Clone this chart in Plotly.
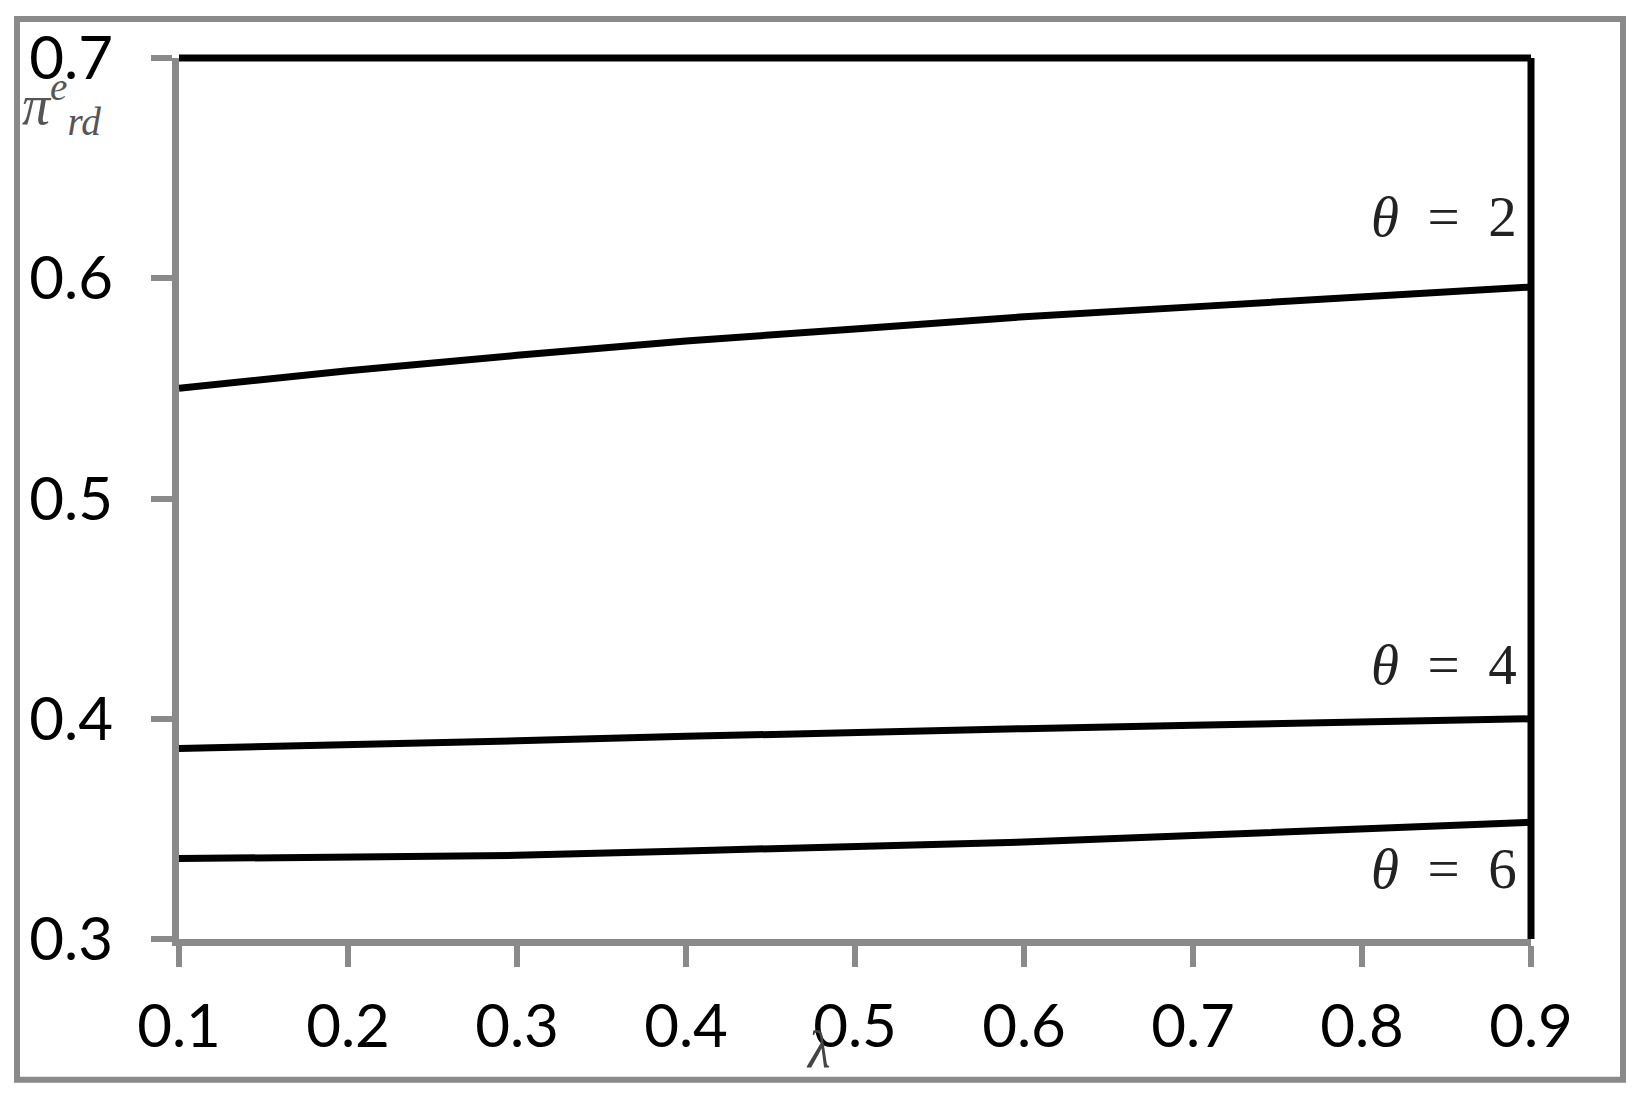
import plotly.graph_objects as go

# 데이터
lam = [0.1, 0.2, 0.3, 0.4, 0.5, 0.6, 0.7, 0.8, 0.9]
theta2 = [0.550, 0.558, 0.565, 0.5715, 0.577, 0.5825, 0.587, 0.5915, 0.596]
theta4 = [0.3865, 0.388, 0.390, 0.392, 0.394, 0.3955, 0.397, 0.3985, 0.400]
theta6 = [0.3365, 0.337, 0.338, 0.340, 0.342, 0.344, 0.347, 0.350, 0.353]
series_names = ["θ = 2", "θ = 4", "θ = 6"]
label_y = [0.628, 0.4245, 0.332]
x_ticks = [0.1, 0.2, 0.3, 0.4, 0.5, 0.6, 0.7, 0.8, 0.9]
y_ticks = [0.3, 0.4, 0.5, 0.6, 0.7]

# 페이지 body 기본 여백(8px) 보정
OFF = 8
W, H = 1644 - 2 * OFF, 1101 - 2 * OFF
# 플롯 영역 (페이지 픽셀 기준)
PL, PR, PT, PB = 179, 1531, 56, 939
L, T = PL - OFF, PT - OFF
R, B = W - (PR - OFF), H - (PB - OFF)

GRAY = "#8a8a8a"
TICK_FONT = dict(family="Lato, sans-serif", size=60, color="black")
SERIF = "Liberation Serif, Times New Roman, serif"


def px_x(p):
    return (p - PL) / (PR - PL)


def px_y(p):
    return 1 - (p - PT) / (PB - PT)


fig = go.Figure()
for ys in (theta2, theta4, theta6):
    fig.add_trace(go.Scatter(
        x=lam, y=ys, mode="lines",
        line=dict(color="black", width=7),
        showlegend=False, cliponaxis=False,
    ))

# θ 라벨
for name, ly in zip(series_names, label_y):
    val = name.split("=")[1].strip()
    fig.add_annotation(
        x=0.9, y=ly, xref="x", yref="y",
        text=f"<i>θ</i>\u2002=\u2002{val}",
        showarrow=False, xanchor="right", yanchor="middle", xshift=-12,
        font=dict(family=SERIF, size=57, color="#222"),
    )

# 축 제목 (π, λ)
fig.add_annotation(
    x=px_x(20), y=px_y(102), xref="paper", yref="paper",
    text="<i>π</i><sup><i>e</i></sup><sub><i>rd</i></sub>",
    showarrow=False, xanchor="left", yanchor="middle",
    font=dict(family=SERIF, size=56, color="#555"),
)
fig.add_annotation(
    x=px_x(818), y=px_y(1050), xref="paper", yref="paper",
    text="<i>λ</i>", showarrow=False, xanchor="center", yanchor="middle",
    font=dict(family=SERIF, size=52, color="#444"),
)

# 상단/우측 검은 테두리
fig.add_shape(type="line", xref="x domain", yref="y domain",
              x0=0, x1=1, y0=1, y1=1, line=dict(color="black", width=7))
fig.add_shape(type="line", xref="x domain", yref="y domain",
              x0=1, x1=1, y0=0, y1=1, line=dict(color="black", width=7))
# 바깥 회색 틀
fig.add_shape(type="rect", xref="paper", yref="paper",
              x0=px_x(17), x1=px_x(1623), y0=px_y(1080), y1=px_y(17),
              line=dict(color=GRAY, width=6))

axis_common = dict(
    showgrid=False, zeroline=False, showline=True,
    linecolor=GRAY, linewidth=7,
    ticks="outside", ticklen=21, tickwidth=6, tickcolor=GRAY,
    tickfont=TICK_FONT,
)
fig.update_layout(
    width=W, height=H,
    margin=dict(l=L, r=R, t=T, b=B),
    plot_bgcolor="white", paper_bgcolor="white",
    xaxis=dict(range=[0.1, 0.9], tickvals=x_ticks, tickformat=".1f",
               ticklabelstandoff=8, **axis_common),
    yaxis=dict(range=[0.3, 0.7], tickvals=y_ticks, tickformat=".1f",
               ticklabelstandoff=26, **axis_common),
)

fig.write_html("out.html")
